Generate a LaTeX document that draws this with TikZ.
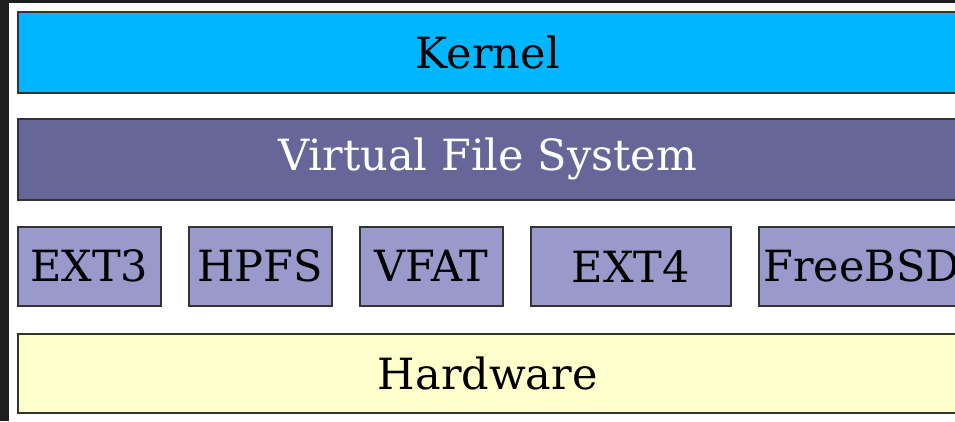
\documentclass[tikz,border=0pt]{standalone}
\usepackage{fontspec}
\setmainfont{DejaVu Serif}
\definecolor{kernelc}{HTML}{00B6FF}
\definecolor{vfsc}{HTML}{666699}
\definecolor{fsc}{HTML}{9999CC}
\definecolor{hwc}{HTML}{FFFFCC}
\definecolor{edgec}{HTML}{333333}
\definecolor{framec}{HTML}{1E1E1E}
\begin{document}
\begin{tikzpicture}[x=1pt,y=-1pt,
  layer/.style={draw=edgec, line width=1.6pt, rectangle, inner sep=0pt, anchor=north west,
    font=\fontsize{43}{51}\selectfont},
  fsbox/.style={layer, fill=fsc, minimum height=79pt}]
\useasboundingbox (0,0) rectangle (955,421);
\fill[white] (0,0) rectangle (955,421);
\begin{scope}
\clip (0,0) rectangle (955,421);
\node[layer, fill=kernelc, minimum width=940pt, minimum height=81pt] (kernel) at (17,11) {Kernel};
\node[layer, fill=vfsc, text=white, minimum width=940pt, minimum height=81pt] (vfs) at (17,118) {Virtual File System};
\node[fsbox, minimum width=143pt] (ext3) at (17,226) {EXT3};
\node[fsbox, minimum width=143pt] (hpfs) at (188,226) {HPFS};
\node[fsbox, minimum width=143pt] (vfat) at (359,226) {VFAT};
\node[fsbox, minimum width=200pt] (ext4) at (530,226) {EXT4};
\node[fsbox, minimum width=206pt] (freebsd) at (758,226) {FreeBSD};
\node[layer, fill=hwc, minimum width=940pt, minimum height=79pt] (hw) at (17,333) {Hardware};
\end{scope}
\fill[framec] (0,0) rectangle (9,421);
\fill[framec] (0,0) rectangle (955,2.5);
\end{tikzpicture}
\end{document}
